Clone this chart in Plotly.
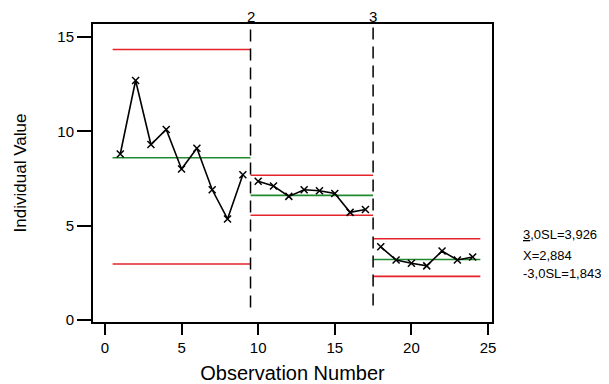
import plotly.graph_objects as go

# ---- data ----
stage1_obs = [1, 2, 3, 4, 5, 6, 7, 8, 9]
stage1_val = [8.8, 12.7, 9.3, 10.1, 8.0, 9.1, 6.9, 5.35, 7.7]
stage2_obs = [10, 11, 12, 13, 14, 15, 16, 17]
stage2_val = [7.35, 7.1, 6.55, 6.9, 6.85, 6.7, 5.7, 5.85]
stage3_obs = [18, 19, 20, 21, 22, 23, 24]
stage3_val = [3.87, 3.17, 3.0, 2.86, 3.65, 3.17, 3.33]

stage_starts = [0.5, 9.5, 17.5]
stage_ends = [9.5, 17.5, 24.5]
stage_ucl = [14.35, 7.67, 4.3]
stage_cl = [8.6, 6.6, 3.2]
stage_lcl = [2.96, 5.55, 2.3]

boundaries = [9.5, 17.5]
boundary_labels = ["2", "3"]
boundary_bottom = [0.65, 0.75]

right_labels = ["<u>3</u>,0SL=3,926", "X=2,884", "-3,0SL=1,843"]
right_label_y = [4.5, 3.39, 2.43]

x_ticks = [0, 5, 10, 15, 20, 25]
y_ticks = [0, 5, 10, 15]

RED = "#e5232b"
GREEN = "#1f8a30"
FONT = "Liberation Sans, Arial, sans-serif"

fig = go.Figure()

# control limits
for s, e, u, c, l in zip(stage_starts, stage_ends, stage_ucl, stage_cl, stage_lcl):
    fig.add_trace(go.Scatter(x=[s, e], y=[u, u], mode="lines",
                             line=dict(color=RED, width=1.6), hoverinfo="skip"))
    fig.add_trace(go.Scatter(x=[s, e], y=[c, c], mode="lines",
                             line=dict(color=GREEN, width=1.6), hoverinfo="skip"))
    fig.add_trace(go.Scatter(x=[s, e], y=[l, l], mode="lines",
                             line=dict(color=RED, width=1.6), hoverinfo="skip"))

# stage boundaries
for b, bot in zip(boundaries, boundary_bottom):
    fig.add_trace(go.Scatter(x=[b, b], y=[bot, 15.75], mode="lines",
                             line=dict(color="black", width=1.5, dash="12px,7px"),
                             hoverinfo="skip", cliponaxis=False))

# data
for xs, ys in [(stage1_obs, stage1_val), (stage2_obs, stage2_val), (stage3_obs, stage3_val)]:
    fig.add_trace(go.Scatter(x=xs, y=ys, mode="lines+markers",
                             line=dict(color="black", width=1.6),
                             marker=dict(symbol="x-thin", size=7,
                                         line=dict(color="black", width=1.5))))

annotations = []
for b, t in zip(boundaries, boundary_labels):
    annotations.append(dict(x=b, y=1, xref="x", yref="paper", text=t, showarrow=False,
                            yanchor="bottom", yshift=-3,
                            font=dict(size=15, color="black", family=FONT)))
for t, yv in zip(right_labels, right_label_y):
    annotations.append(dict(x=1, y=yv, xref="paper", yref="y", text=t, showarrow=False,
                            xanchor="left", xshift=30, borderpad=0,
                            font=dict(size=13, color="black", family=FONT)))

# page body has an 8px margin, so the figure is sized to fit the 609x384 window
fig.update_layout(
    width=601, height=376,
    margin=dict(l=85, r=117, t=16, b=62),
    paper_bgcolor="white", plot_bgcolor="white",
    showlegend=False,
    font=dict(family=FONT, color="black", size=15),
    annotations=annotations,
    xaxis=dict(range=[-0.78, 25.26], tickvals=x_ticks, showgrid=False, zeroline=False,
               showline=True, linecolor="black", linewidth=2, mirror=True,
               ticks="outside", ticklen=11, tickwidth=1.8, tickcolor="black",
               tickfont=dict(size=15), automargin=False,
               title=dict(text="Observation Number", font=dict(size=20), standoff=13)),
    yaxis=dict(range=[-0.12, 15.7], tickvals=y_ticks, showgrid=False, zeroline=False,
               showline=True, linecolor="black", linewidth=2, mirror=True,
               ticks="outside", ticklen=14, tickwidth=1.8, tickcolor="black",
               tickfont=dict(size=15), automargin=False,
               title=dict(text="Individual Value", font=dict(size=17), standoff=26)),
)

fig.write_html("out.html")
